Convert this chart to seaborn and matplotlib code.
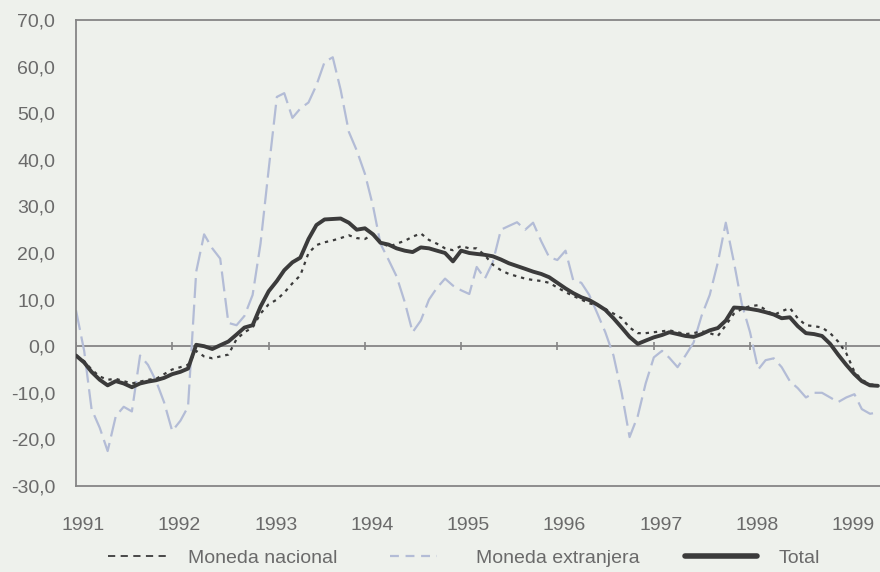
import matplotlib
matplotlib.use('Agg')
import matplotlib.pyplot as plt
import matplotlib.transforms as mtransforms
from matplotlib.lines import Line2D
import pandas as pd
import seaborn as sns

# Crédito: variación anual (%), datos mensuales ene-1991 / may-1999
fechas = pd.date_range('1991-01-01', periods=101, freq='MS')

total = [
    -2.0, -3.5, -5.5, -7.2, -8.4, -7.5, -8.0, -8.8, -8.0, -7.6, -7.3, -6.8,
    -6.0, -5.5, -4.8, 0.3, 0.0, -0.6, 0.2, 1.0, 2.5, 4.0, 4.5, 8.5,
    11.8, 14.0, 16.3, 18.0, 19.0, 23.0, 26.0, 27.2, 27.3, 27.4, 26.5, 25.0,
    25.3, 24.0, 22.2, 21.8, 21.0, 20.5, 20.2, 21.2, 21.0, 20.5, 20.0, 18.2,
    20.5, 20.0, 19.8, 19.6, 19.3, 18.6, 17.8, 17.2, 16.6, 16.0, 15.5, 14.8,
    13.6, 12.4, 11.4, 10.5, 9.9, 8.9, 7.8, 6.0, 4.0, 2.0, 0.5, 1.2,
    1.9, 2.4, 3.0, 2.6, 2.2, 2.0, 2.6, 3.4, 3.9, 5.5, 8.3, 8.2,
    8.0, 7.7, 7.3, 6.8, 6.0, 6.2, 4.3, 2.8, 2.6, 2.2, 0.5, -1.8,
    -4.0, -6.0, -7.5, -8.4, -8.5,
]

nacional = [
    -2.0, -3.2, -5.0, -6.5, -7.2, -7.0, -7.5, -8.0, -7.6, -7.2, -7.0, -6.0,
    -5.0, -4.5, -4.0, -1.0, -2.2, -2.6, -2.2, -1.8, 1.5, 3.0, 4.0, 7.0,
    9.0, 10.0, 11.5, 13.5, 15.2, 20.0, 21.7, 22.3, 22.7, 23.2, 23.8, 23.2,
    23.0, 24.0, 22.5, 21.3, 22.0, 22.6, 23.5, 24.2, 22.8, 22.0, 21.0, 20.6,
    21.5, 21.0, 21.0, 19.5, 17.5, 16.3, 15.5, 15.0, 14.5, 14.2, 14.0, 13.6,
    12.6, 11.6, 10.8, 10.0, 9.2, 8.8, 8.0, 7.0, 6.0, 4.0, 2.8, 2.8,
    3.0, 3.2, 3.4, 3.0, 2.6, 2.8, 3.2, 2.8, 2.2, 4.5, 7.0, 8.0,
    8.6, 8.8, 7.8, 6.7, 7.5, 8.2, 6.0, 4.5, 4.3, 4.0, 2.8, 1.0,
    -1.5, -5.5, -7.2, -8.2, -8.3,
]

extranjera = [
    7.7, -1.0, -13.5, -17.5, -22.5, -15.0, -13.0, -14.0, -2.0, -4.0, -7.5, -12.0,
    -18.2, -16.0, -13.0, 16.0, 24.0, 21.0, 18.8, 5.0, 4.5, 6.5, 11.0, 22.0,
    38.0, 53.5, 54.3, 49.0, 51.0, 52.3, 56.0, 61.0, 62.0, 55.0, 46.0, 42.0,
    37.0, 30.0, 22.0, 18.5, 15.0, 9.5, 3.0, 5.5, 10.0, 12.5, 14.5, 13.0,
    12.0, 11.2, 17.0, 14.5, 18.0, 25.0, 25.8, 26.6, 25.0, 26.5, 22.5, 19.1,
    18.5, 20.5, 14.2, 13.6, 11.0, 7.0, 3.0, -2.0, -10.0, -19.5, -15.0, -8.0,
    -2.4, -1.0, -2.5, -4.5, -2.0, 0.8, 6.5, 11.0, 18.0, 26.5, 18.0, 9.0,
    3.0, -5.0, -3.0, -2.6, -4.5, -7.5, -9.0, -11.0, -10.0, -10.0, -11.0, -12.0,
    -11.0, -10.3, -13.5, -14.5, -14.2,
]

anios = ['1991', '1992', '1993', '1994', '1995', '1996', '1997', '1998', '1999']
y_ticks = [-30, -20, -10, 0, 10, 20, 30, 40, 50, 60, 70]

fondo = '#eef1ec'
gris_eje = '#858585'
gris_txt = '#6a6a6a'
oscuro = '#3b3b3b'
azul = '#b3bcd6'

sns.set_style('white')
plt.rcParams['font.family'] = ['Liberation Sans Narrow', 'Liberation Sans', 'DejaVu Sans']

df = pd.DataFrame({'fecha': fechas, 'Moneda nacional': nacional,
                   'Moneda extranjera': extranjera, 'Total': total})

fig = plt.figure(figsize=(8.8, 5.72), dpi=100, facecolor=fondo)
ax = fig.add_axes([76 / 880, 86 / 572, 1 - 76 / 880, 466 / 572])
ax.set_facecolor(fondo)

# linea del cero con marcas de año
fechas_anio = pd.to_datetime([a + '-01-01' for a in anios])
ax.axhline(0, color=gris_eje, lw=1.3, zorder=1)
ax.plot(fechas_anio, [0] * len(anios), ls='none', marker='|', ms=6, mew=1.2,
        color=gris_eje, zorder=1)

sns.lineplot(data=df, x='fecha', y='Moneda extranjera', ax=ax, color=azul,
             lw=1.6, linestyle=(0, (9, 3)), zorder=2)
sns.lineplot(data=df, x='fecha', y='Moneda nacional', ax=ax, color=oscuro,
             lw=1.6, linestyle=(0, (1.5, 2.2)), zorder=3)
sns.lineplot(data=df, x='fecha', y='Total', ax=ax, color=oscuro,
             lw=2.8, zorder=4)

ax.set_xlim(pd.Timestamp('1991-01-01'), pd.Timestamp('1999-05-09'))
ax.set_ylim(-30, 70)
ax.set_xlabel('')
ax.set_ylabel('')

ax.set_xticks(fechas_anio)
ax.set_xticklabels(anios)
ax.tick_params(axis='x', length=0, pad=22, labelsize=14, labelcolor=gris_txt)
desplaza = mtransforms.ScaledTranslation(7 / 100, 0, fig.dpi_scale_trans)
for lbl in ax.get_xticklabels():
    lbl.set_transform(lbl.get_transform() + desplaza)

ax.set_yticks(y_ticks)
ax.set_yticklabels([f'{v:.1f}'.replace('.', ',') for v in y_ticks])
ax.tick_params(axis='y', direction='in', length=5, width=1.2, color=gris_eje,
               pad=15, labelsize=14, labelcolor=gris_txt)

for lado in ['left', 'top', 'bottom']:
    ax.spines[lado].set_color(gris_eje)
    ax.spines[lado].set_linewidth(1.3)
ax.spines['right'].set_visible(False)

# leyenda: tres entradas sueltas
entradas = [
    (Line2D([], [], color=oscuro, lw=1.3, ls=(0, (4, 3))), 'Moneda nacional', 108, 3.0, 1.1),
    (Line2D([], [], color=azul, lw=1.6, ls=(0, (4, 3))), 'Moneda extranjera', 390, 2.4, 2.0),
    (Line2D([], [], color=oscuro, lw=4), 'Total', 685, 3.7, 1.1),
]
for h, txt, x0, largo, sep in entradas:
    fig.legend(handles=[h], labels=[txt], loc='center left',
               bbox_to_anchor=(x0 / 880, 1 - 558 / 572), frameon=False,
               borderpad=0, borderaxespad=0, handlelength=largo,
               handletextpad=sep, fontsize=14, labelcolor=gris_txt)

fig.savefig('out.png', dpi=100, facecolor=fondo)
